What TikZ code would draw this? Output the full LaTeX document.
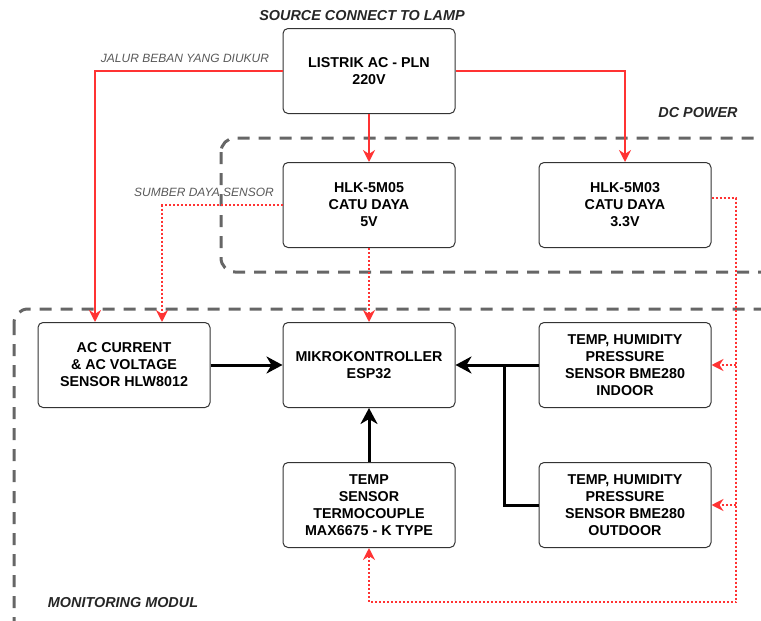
\documentclass[tikz,border=0pt]{standalone}
\usepackage{fontspec}
\setmainfont{Liberation Sans}
\usetikzlibrary{arrows.meta}
\definecolor{merah}{HTML}{FF3333}
\definecolor{abu}{HTML}{666666}

\begin{document}
\begin{tikzpicture}[x=1pt,y=-1pt]
\tikzstyle{blok}=[draw=black!80,line width=1pt,rounded corners=5pt,minimum width=172pt,minimum height=85pt,align=center,font=\fontsize{14.3}{17}\selectfont\bfseries];
\tikzstyle{grup}=[draw=abu,line width=3pt,rounded corners=14pt,dash pattern=on 12pt off 9pt];
\tikzstyle{judul}=[font=\fontsize{14.4}{17}\selectfont\bfseries\itshape,text=black!85];
\tikzstyle{ket}=[font=\fontsize{12}{14}\selectfont\itshape,text=black!65];
\tikzstyle{ac}=[-{Stealth[length=12pt,width=12pt,inset=4pt]},merah,line width=2pt];
\tikzstyle{dc}=[-{Stealth[length=12pt,width=12pt,inset=4pt]},merah,line width=2pt,dash pattern=on 2pt off 2pt];
\tikzstyle{data}=[-{Stealth[length=16pt,width=17pt,inset=5pt]},black,line width=3pt];

\useasboundingbox (0,0) rectangle (761,621);
\clip (0,0) rectangle (761,621);

%% grup
\draw [grup] (221,138) rectangle (800,272);
\draw [grup] (14,309) rectangle (800,650);
\node [judul] (t1) at (362,16) {SOURCE CONNECT TO LAMP};
\node [judul] (t2) at (698,113) {DC POWER};
\node [judul] (t3) at (123,603) {MONITORING MODUL};

%% blok
\node [blok] (v1) at (369,71) {LISTRIK AC - PLN\\220V};
\node [blok] (v2) at (369,205) {HLK-5M05\\CATU DAYA\\5V};
\node [blok] (v3) at (625,205) {HLK-5M03\\CATU DAYA\\3.3V};
\node [blok] (v4) at (124,365) {AC CURRENT\\\& AC VOLTAGE\\SENSOR HLW8012};
\node [blok] (v5) at (369,365) {MIKROKONTROLLER\\ESP32};
\node [blok] (v6) at (625,365) {TEMP, HUMIDITY\\PRESSURE\\SENSOR BME280\\INDOOR};
\node [blok] (v7) at (369,505) {TEMP\\SENSOR\\TERMOCOUPLE\\MAX6675 - K TYPE};
\node [blok] (v8) at (625,505) {TEMP, HUMIDITY\\PRESSURE\\SENSOR BME280\\OUTDOOR};

%% jalur AC
\draw [ac] (v1.west) -| ([xshift=-29pt]v4.north);
\draw [ac] (v1) -- (v2);
\draw [ac] (v1.east) -| (v3.north);
\node [ket] (k1) at (185,58) {JALUR BEBAN YANG DIUKUR};

%% jalur DC
\draw [dc] (v2.west) -| ([xshift=38pt]v4.north);
\draw [dc] (v2) -- (v5);
\node [ket] (k2) at (204,192) {SUMBER DAYA SENSOR};
\coordinate (p1) at (736,198);
\coordinate (p2) at (736,602);
\draw [dc] ([yshift=7pt]v3.east) -- (p1) -- (p2) -| (v7.south);
\draw [dc] (p1 |- v6.east) -- (v6.east);
\draw [dc] (p1 |- v8.east) -- (v8.east);

%% data
\coordinate (j1) at (504,365);
\draw [data] (v4) -- (v5);
\draw [data] (v6) -- (v5);
\draw [data] (v7) -- (v5);
\draw [black,line width=3pt] (v8.west) -| (j1);
\end{tikzpicture}
\end{document}
